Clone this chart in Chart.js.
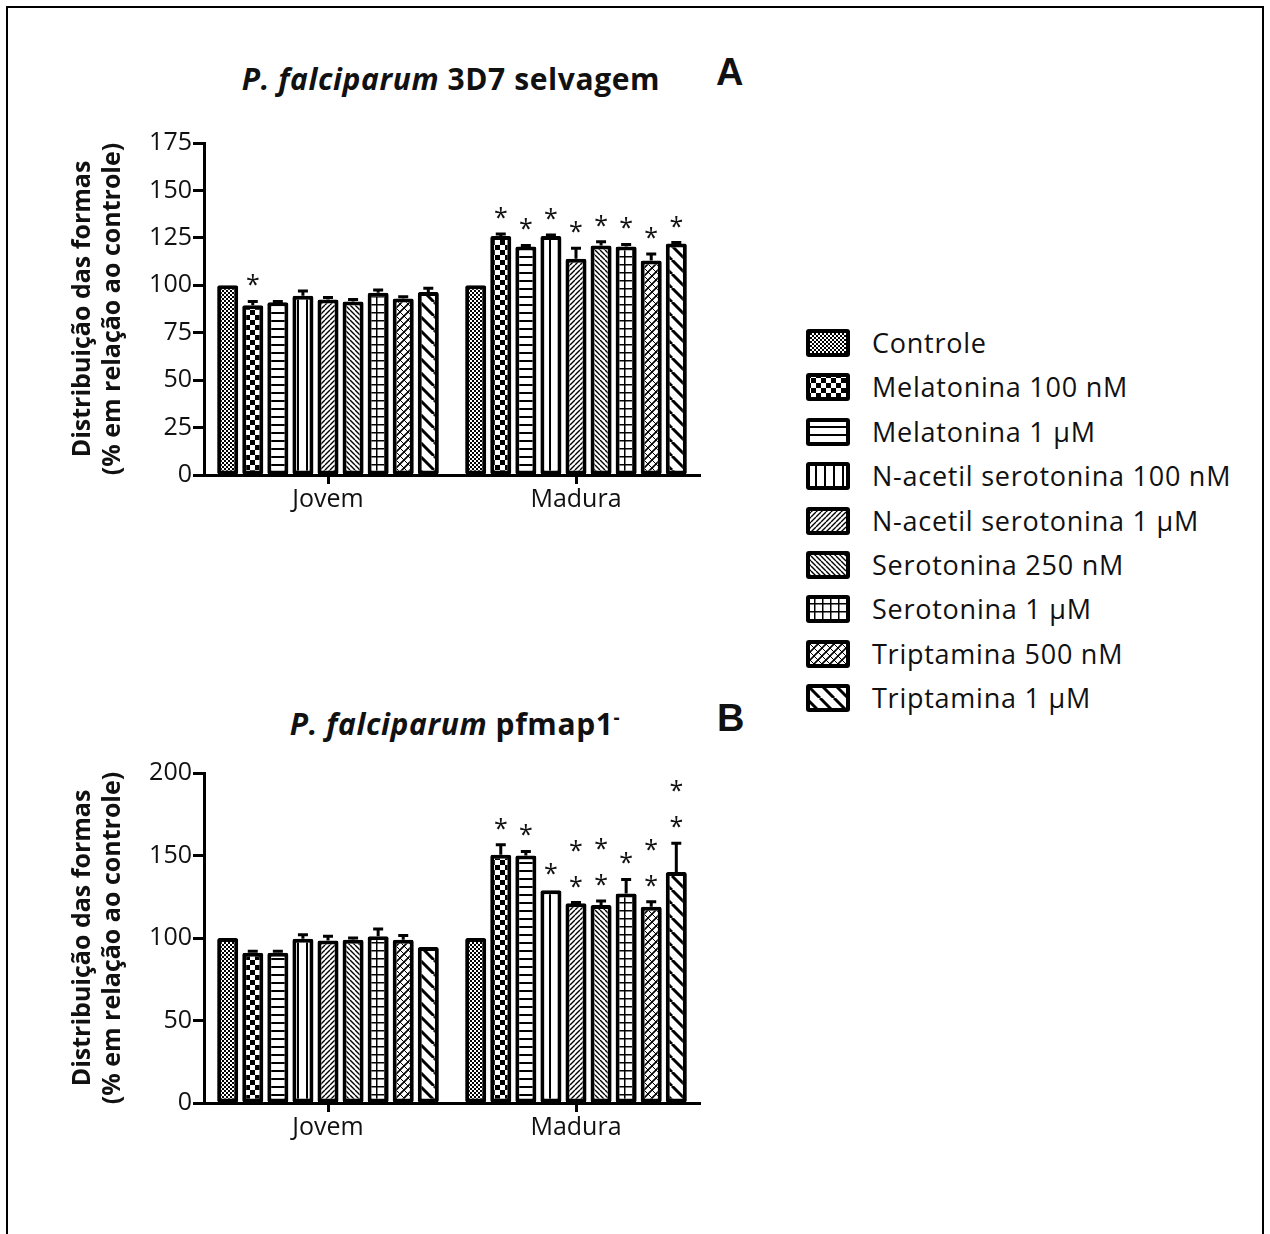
<!DOCTYPE html>
<html>
<head>
<meta charset="utf-8">
<script src="https://cdn.jsdelivr.net/npm/chart.js@4.4.0/dist/chart.umd.min.js"></script>
<style>
body { margin: 0; background: #fff; font-family: "Open Sans", sans-serif; color: #111; }
#page { position: relative; width: 1270px; height: 1234px; overflow: hidden; }
#frame { position: absolute; left: 6px; top: 6px; width: 1254px; height: 1400px; border: 2px solid #000; }
.chart { position: absolute; left: 0; }
.title { position: absolute; font-weight: bold; font-size: 30px; letter-spacing: 0.6px; line-height: 40px; white-space: nowrap; text-align: center; width: 600px; }
.title sup { font-size: 19px; vertical-align: 11px; }
.letter { position: absolute; font-family: "Liberation Sans", Arial, sans-serif; font-weight: bold; font-size: 38px; line-height: 40px; }
.row { position: absolute; left: 806px; height: 28px; white-space: nowrap; }
.row canvas { position: absolute; left: 0; top: 0; }
.row span { position: absolute; left: 66px; top: -5px; font-size: 27px; letter-spacing: 0.75px; line-height: 38px; }
</style>
</head>
<body>
<div id="page">
  <div id="frame"></div>
  <div class="title" style="left:151px;top:59px"><i>P. falciparum</i> 3D7 selvagem</div>
  <div class="letter" style="left:716px;top:52px">A</div>
  <div class="title" style="left:155px;top:697px"><i>P. falciparum</i> pfmap1<sup>-</sup></div>
  <div class="letter" style="left:717px;top:698px">B</div>
  <canvas id="chartA" class="chart" width="760" height="420" style="top:120px"></canvas>
  <canvas id="chartB" class="chart" width="760" height="420" style="top:750px"></canvas>
  <div id="legend"></div>
</div>
<script>
const categories = ['Jovem', 'Madura']
const treatments = ['Controle', 'Melatonina 100 nM', 'Melatonina 1 μM', 'N-acetil serotonina 100 nM',
  'N-acetil serotonina 1 μM', 'Serotonina 250 nM', 'Serotonina 1 μM', 'Triptamina 500 nM', 'Triptamina 1 μM']

// panel A - 3D7 selvagem
const jovemA = [100, 89.5, 91, 94.5, 92.5, 91.5, 96, 93, 96.5]
const jovemErrA = [0, 2, 0.5, 2.5, 1, 1, 1.5, 1, 2]
const jovemStarsA = [0, 1, 0, 0, 0, 0, 0, 0, 0]
const maduraA = [100, 126, 120.5, 126, 114, 121, 120.5, 113, 122]
const maduraErrA = [0, 1, 0.5, 0.5, 5.5, 2, 1, 3.5, 0.5]
const maduraStarsA = [0, 1, 1, 1, 1, 1, 1, 1, 1]
const ticksA = [0, 25, 50, 75, 100, 125, 150, 175]

// panel B - pfmap1-
const jovemB = [100, 91, 91, 99.5, 98.5, 99, 101, 99, 94.5]
const jovemErrB = [0, 1, 1, 2.5, 2.5, 1, 4.5, 2.5, 0]
const jovemStarsB = [0, 0, 0, 0, 0, 0, 0, 0, 0]
const maduraB = [100, 150.5, 150, 129, 121, 120, 127, 119, 140]
const maduraErrB = [0, 6, 2.5, 0, 0.5, 2.5, 8.5, 3, 17.5]
const maduraStarsB = [0, 1, 1, 1, 2, 2, 1, 2, 2]
const ticksB = [0, 50, 100, 150, 200]

function tile(size, draw) {
  const c = document.createElement('canvas')
  c.width = c.height = size
  const g = c.getContext('2d')
  g.fillStyle = '#fff'
  g.fillRect(0, 0, size, size)
  g.fillStyle = '#000'
  g.strokeStyle = '#000'
  draw(g, size)
  return c
}
function diag(g, s, w, dir) {
  g.lineWidth = w
  g.beginPath()
  for (const o of [-s, 0, s]) {
    if (dir > 0) { g.moveTo(o, s); g.lineTo(o + s, 0) }
    else { g.moveTo(o, 0); g.lineTo(o + s, s) }
  }
  g.stroke()
}
const tiles = [
  tile(4, (g) => { g.fillRect(0, 0, 2, 2); g.fillRect(2, 2, 2, 2) }),
  tile(10, (g) => { g.fillRect(0, 0, 5, 5); g.fillRect(5, 5, 5, 5) }),
  tile(8, (g, s) => { g.fillRect(0, 0, s, 2) }),
  tile(9, (g, s) => { g.fillRect(0, 0, 2, s) }),
  tile(5, (g, s) => diag(g, s, 1.4, 1)),
  tile(5, (g, s) => diag(g, s, 1.4, -1)),
  tile(8, (g, s) => { g.fillRect(0, 0, s, 1.5); g.fillRect(0, 0, 1.5, s) }),
  tile(8, (g, s) => { diag(g, s, 1.6, 1); diag(g, s, 1.0, -1) }),
  tile(14, (g, s) => diag(g, s, 3, -1))
]

function makePatterns(ctx) {
  return tiles.map(t => ctx.createPattern(t, 'repeat'))
}

Chart.defaults.font.family = '"Open Sans", sans-serif'
Chart.defaults.color = '#111'

function errStarPlugin(errs, stars) {
  return {
    id: 'errstars',
    afterDatasetsDraw(chart) {
      const ctx = chart.ctx
      const y = chart.scales.y
      ctx.save()
      ctx.strokeStyle = '#000'
      ctx.fillStyle = '#111'
      ctx.lineWidth = 3
      ctx.font = '25px "Open Sans"'
      ctx.textAlign = 'center'
      ctx.textBaseline = 'alphabetic'
      chart.data.datasets.forEach((ds, i) => {
        chart.getDatasetMeta(i).data.forEach((bar, j) => {
          const e = errs[j][i]
          let top = bar.y
          if (e > 0) {
            const ye = y.getPixelForValue(ds.data[j] + e)
            ctx.beginPath()
            ctx.moveTo(bar.x, bar.y)
            ctx.lineTo(bar.x, ye)
            ctx.moveTo(bar.x - 5, ye)
            ctx.lineTo(bar.x + 5, ye)
            ctx.stroke()
            top = ye
          }
          for (let k = 0; k < stars[j][i]; k++) {
            const cy = top - 23 - k * 36
            ctx.fillText('*', bar.x, cy + 15)
          }
        })
      })
      ctx.restore()
    }
  }
}

function makeChart(id, vals, errs, stars, ticks, padBottom) {
  const ctx = document.getElementById(id).getContext('2d')
  const patterns = makePatterns(ctx)
  return new Chart(ctx, {
    type: 'bar',
    data: {
      labels: categories,
      datasets: treatments.map((t, i) => ({
        label: t,
        data: vals.map(v => v[i]),
        backgroundColor: patterns[i],
        borderColor: '#000',
        borderWidth: 4,
        borderSkipped: false,
        borderRadius: 2,
        categoryPercentage: 0.91,
        barPercentage: 0.84
      }))
    },
    options: {
      responsive: false,
      animation: false,
      events: [],
      layout: { padding: { left: 0, right: 60, top: 23, bottom: padBottom } },
      plugins: { legend: { display: false }, tooltip: { enabled: false } },
      scales: {
        x: {
          grid: { offset: false, drawOnChartArea: false, tickLength: 9, tickWidth: 3, tickColor: '#000' },
          border: { color: '#000', width: 3 },
          ticks: { font: { size: 25 }, padding: 1 },
          afterFit: (s) => { s.height = 50 }
        },
        y: {
          min: ticks[0],
          max: ticks[ticks.length - 1],
          afterBuildTicks: (s) => { s.ticks = ticks.map(v => ({ value: v })) },
          grid: { drawOnChartArea: false, tickLength: 11, tickWidth: 3, tickColor: '#000' },
          border: { color: '#000', width: 3 },
          ticks: { font: { size: 25 }, padding: 1 },
          title: {
            display: true,
            text: ['Distribuição das formas', '(% em relação ao controle)'],
            font: { size: 25, weight: 'bold', lineHeight: 30 / 25 },
            padding: { top: 68, bottom: 0 }
          },
          afterFit: (s) => { s.width = 204 }
        }
      }
    },
    plugins: [errStarPlugin(errs, stars)]
  })
}

makeChart('chartA', [jovemA, maduraA], [jovemErrA, maduraErrA], [jovemStarsA, maduraStarsA], ticksA, 15)
makeChart('chartB', [jovemB, maduraB], [jovemErrB, maduraErrB], [jovemStarsB, maduraStarsB], ticksB, 17)

// legend built as html rows with pattern swatches
const legend = document.getElementById('legend')
treatments.forEach((t, i) => {
  const row = document.createElement('div')
  row.className = 'row'
  row.style.top = Math.round(329 + i * 44.4) + 'px'
  const sw = document.createElement('canvas')
  sw.width = 44
  sw.height = 28
  const g = sw.getContext('2d')
  g.fillStyle = '#000'
  g.beginPath()
  g.roundRect(0, 0, 44, 28, 3)
  g.fill()
  g.fillStyle = g.createPattern(tiles[i], 'repeat')
  g.fillRect(4, 4, 36, 20)
  const label = document.createElement('span')
  label.textContent = t
  row.appendChild(sw)
  row.appendChild(label)
  legend.appendChild(row)
})
</script>
</body>
</html>
